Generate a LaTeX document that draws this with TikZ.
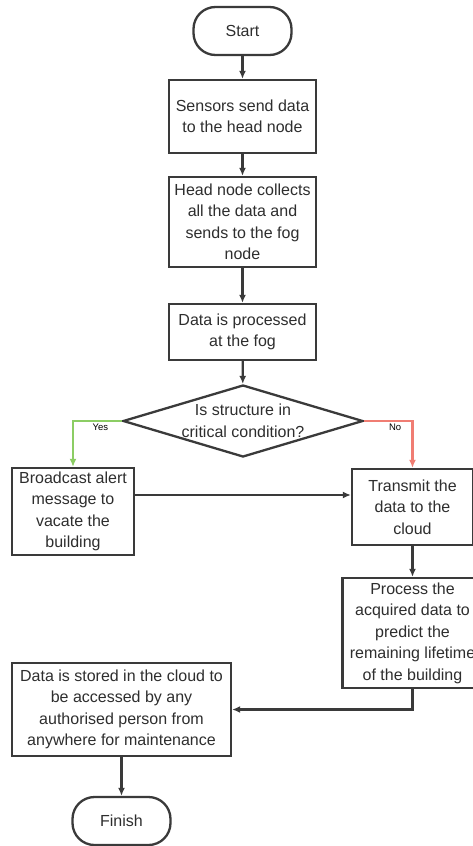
\documentclass[tikz,border=0pt]{standalone}
\usepackage{fontspec}
\setmainfont{Liberation Sans}
\usetikzlibrary{shapes.geometric, arrows.meta}

\definecolor{linegray}{HTML}{3A3A3A}
\definecolor{textgray}{HTML}{2E2E2E}
\definecolor{yesgreen}{HTML}{8CCD64}
\definecolor{nored}{HTML}{F07D73}

\begin{document}
\begin{tikzpicture}[> = {Latex[length = 8pt, width = 7pt]}, x = 1pt, y = -1pt,
	every node/.style = {font = \fontsize{16}{21.5}\selectfont, text = textgray, align = center, inner sep = 0},
	block/.style = {rectangle, draw = linegray, line width = 2.3pt},
	term/.style = {block, rounded corners = 22pt, minimum width = 98pt, minimum height = 48pt},
	decision/.style = {diamond, draw = linegray, line width = 2.3pt, shape aspect = 3.33, inner sep = -2pt, minimum width = 240pt, minimum height = 72pt},
	flow/.style = {->, draw = linegray, line width = 2.3pt},
	answer/.style = {font = \fontsize{9.5}{11}\selectfont, text = black}]

	\useasboundingbox [fill = white] (0, 0) rectangle (473, 846);

	% Main column
	
	\node [term] (start) at (242.5, 31) {Start};
	\node [block, minimum width = 147pt, minimum height = 73pt] (send) at (242.5, 116.5) {Sensors send data\\to the head node};
	\node [block, minimum width = 147pt, minimum height = 90pt] (collect) at (242.5, 222) {Head node collects\\all the data and\\sends to the fog\\node};
	\node [block, minimum width = 147pt, minimum height = 56pt] (fog) at (242.5, 332) {Data is processed\\at the fog};
	\node [decision] (critical) at (243, 421) {Is structure in\\critical condition?};
	
	% Branches
	
	\node [block, minimum width = 122pt, minimum height = 87pt] (alert) at (73, 511.5) {Broadcast alert\\message to\\vacate the\\building};
	\node [block, minimum width = 121pt, minimum height = 76pt] (transmit) at (412.5, 507) {Transmit the\\data to the\\cloud};
	\node [block, minimum width = 140pt, minimum height = 110pt] (predict) at (412.5, 633) {Process the\\acquired data to\\predict the\\remaining lifetime\\of the building};
	\node [block, minimum width = 219pt, minimum height = 93pt] (store) at (121.5, 709.5) {Data is stored in the cloud to\\be accessed by any\\authorised person from\\anywhere for maintenance};
	\node [term] (finish) at (121.5, 821) {Finish};
	
	% Connectors
	
	\draw [flow] (start) -- (send);
	\draw [flow] (send) -- (collect);
	\draw [flow] (collect) -- (fog);
	\draw [flow] (fog) -- (critical);
	
	\draw [flow, yesgreen] (critical.west) -| node [answer, pos = 0.22, below = 2pt] {Yes} (alert.north);
	\draw [flow, nored] (critical.east) -| node [answer, pos = 0.32, below = 2pt] {No} (transmit.north);
	
	\coordinate (alertout) at ([yshift = 16.5pt] alert.east);
	\draw [flow] (alertout) -- (alertout -| transmit.west);
	
	\draw [flow] (transmit) -- (predict);
	\draw [flow] (predict.south) |- (store.east);
	\draw [flow] (store) -- (finish);

\end{tikzpicture}
\end{document}
